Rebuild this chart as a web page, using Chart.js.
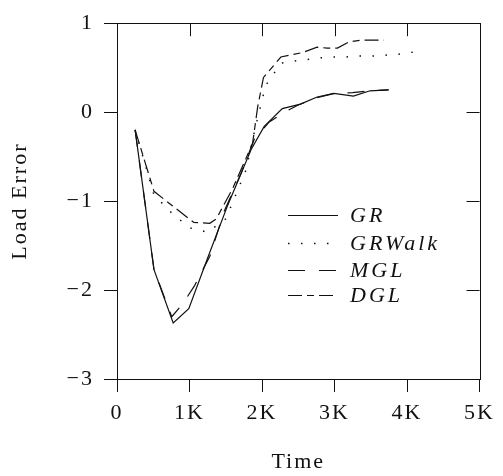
<!DOCTYPE html>
<html>
<head>
<meta charset="utf-8">
<script src="https://cdn.jsdelivr.net/npm/chart.js@4/dist/chart.umd.min.js"></script>
<style>
  html, body { margin: 0; padding: 0; background: #fff; }
  #wrap { width: 503px; height: 476px; }
</style>
</head>
<body>
<div id="wrap"><canvas id="loadErrorChart"></canvas></div>
<script>
// values
const grTime = [250, 510, 775, 990, 1250, 1530, 1850, 2030, 2280, 2530, 2760, 2990, 3260, 3490, 3740];
const grErr = [-0.2, -1.77, -2.37, -2.21, -1.64, -1.04, -0.42, -0.16, 0.04, 0.09, 0.17, 0.21, 0.18, 0.24, 0.25];

const grWalkTime = [250, 510, 750, 1000, 1250, 1500, 1780, 1900, 2050, 2260, 2400, 2600, 2790, 2970, 3150, 3330, 3520, 3700, 3880, 4040, 4220];
const grWalkErr = [-0.2, -0.93, -1.13, -1.3, -1.35, -1.2, -0.65, -0.2, 0.3, 0.55, 0.57, 0.59, 0.61, 0.62, 0.62, 0.63, 0.63, 0.64, 0.65, 0.67, 0.69];

const mglTime = [250, 510, 755, 910, 1070, 1280, 1480, 1710, 1890, 2100, 2310, 2500, 2750, 3000, 3250, 3500, 3750];
const mglErr = [-0.2, -1.77, -2.3, -2.15, -1.95, -1.62, -1.11, -0.69, -0.31, -0.11, 0.0, 0.08, 0.16, 0.21, 0.22, 0.24, 0.25];

const dglTime = [250, 510, 775, 1060, 1280, 1370, 1600, 1870, 1940, 2020, 2260, 2560, 2760, 2900, 3040, 3200, 3380, 3680];
const dglErr = [-0.2, -0.89, -1.06, -1.24, -1.25, -1.2, -0.85, -0.35, 0.06, 0.39, 0.62, 0.67, 0.73, 0.72, 0.72, 0.79, 0.81, 0.81];

const xTicks = [0, 1000, 2000, 3000, 4000, 5000];
const xTickLabels = ['0', '1K', '2K', '3K', '4K', '5K'];
const yTicks = [-3, -2, -1, 0, 1];
const yTickLabels = ['\u22123', '\u22122', '\u22121', '0', '1'];

const pts = (xs, ys) => xs.map((x, i) => ({ x: x, y: ys[i] }));
const ink = '#111';
const serif = "'Liberation Serif', 'DejaVu Serif', serif";

function spacing(chart) {
    chart.ctx.letterSpacing = '2px';
}

// frame, inward ticks on top/right, legend inside plot
const framePlugin = {
    id: 'frame',
    beforeLayout: spacing,
    beforeDraw: spacing,
    afterDatasetsDraw(chart) {
        const { ctx, chartArea: a, scales: { x, y } } = chart;
        ctx.save();
        ctx.strokeStyle = ink;
        ctx.lineWidth = 1;
        ctx.strokeRect(Math.round(a.left) + 0.5, Math.round(a.top) + 0.5,
            Math.round(a.right - a.left), Math.round(a.bottom - a.top));
        ctx.beginPath();
        x.ticks.forEach(t => {
            const px = Math.round(x.getPixelForValue(t.value)) + 0.5;
            ctx.moveTo(px, a.top);
            ctx.lineTo(px, a.top + 13);
        });
        y.ticks.forEach(t => {
            const py = Math.round(y.getPixelForValue(t.value)) + 0.5;
            ctx.moveTo(a.right - 13, py);
            ctx.lineTo(a.right, py);
        });
        ctx.stroke();

        // legend
        const rowY = [215, 243, 270, 295];
        ctx.font = "italic 22px 'Liberation Serif'";
        ctx.letterSpacing = '3px';
        ctx.textBaseline = 'middle';
        ctx.fillStyle = ink;
        chart.data.datasets.forEach((ds, i) => {
            const yy = rowY[i] + 0.5;
            ctx.save();
            ctx.setLineDash(ds.borderDash || []);
            ctx.lineWidth = ds.borderWidth;
            ctx.strokeStyle = ds.borderColor;
            ctx.beginPath();
            ctx.moveTo(288, yy);
            ctx.lineTo(338, yy);
            ctx.stroke();
            ctx.restore();
            ctx.fillText(ds.label, 350, rowY[i] + 1);
        });
        ctx.restore();
    }
};

const ctx = document.getElementById('loadErrorChart').getContext('2d');
const loadErrorChart = new Chart(ctx, {
    type: 'line',
    data: {
        datasets: [
            {
                label: 'GR',
                data: pts(grTime, grErr),
                borderColor: ink,
                borderWidth: 1.2
            },
            {
                label: 'GRWalk',
                data: pts(grWalkTime, grWalkErr),
                borderColor: ink,
                borderWidth: 1.5,
                borderDash: [1.5, 11.5]
            },
            {
                label: 'MGL',
                data: pts(mglTime, mglErr),
                borderColor: ink,
                borderWidth: 1.2,
                borderDash: [17, 14]
            },
            {
                label: 'DGL',
                data: pts(dglTime, dglErr),
                borderColor: ink,
                borderWidth: 1.2,
                borderDash: [14, 5, 7, 5]
            }
        ]
    },
    options: {
        responsive: true,
        maintainAspectRatio: false,
        animation: false,
        layout: { padding: { top: 14, right: 20, left: 0, bottom: 0 } },
        elements: { point: { radius: 0 }, line: { tension: 0, fill: false } },
        scales: {
            x: {
                type: 'linear',
                min: 0,
                max: 5000,
                afterFit(s) { s.height = 97; },
                afterBuildTicks(s) { s.ticks = xTicks.map(v => ({ value: v })); },
                border: { color: ink, width: 1 },
                grid: { drawOnChartArea: false, color: ink, tickLength: 13, tickWidth: 1 },
                ticks: {
                    color: ink,
                    padding: 8,
                    maxRotation: 0,
                    font: { family: serif, size: 22 },
                    callback: (v) => xTickLabels[xTicks.indexOf(v)]
                },
                title: {
                    display: true,
                    text: 'Time',
                    color: ink,
                    padding: { top: 0, bottom: 1 },
                    font: { family: serif, size: 22 }
                }
            },
            y: {
                min: -3,
                max: 1,
                afterFit(s) { s.width = 117; },
                afterBuildTicks(s) { s.ticks = yTicks.map(v => ({ value: v })); },
                border: { color: ink, width: 1 },
                grid: { drawOnChartArea: false, color: ink, tickLength: 13, tickWidth: 1 },
                ticks: {
                    color: ink,
                    padding: 10,
                    font: { family: serif, size: 22 },
                    callback: (v) => yTickLabels[yTicks.indexOf(v)]
                },
                title: {
                    display: true,
                    text: 'Load Error',
                    color: ink,
                    padding: { top: 7, bottom: 0 },
                    font: { family: serif, size: 22 }
                }
            }
        },
        plugins: {
            legend: { display: false },
            tooltip: { enabled: false }
        }
    },
    plugins: [framePlugin]
});
</script>
</body>
</html>
